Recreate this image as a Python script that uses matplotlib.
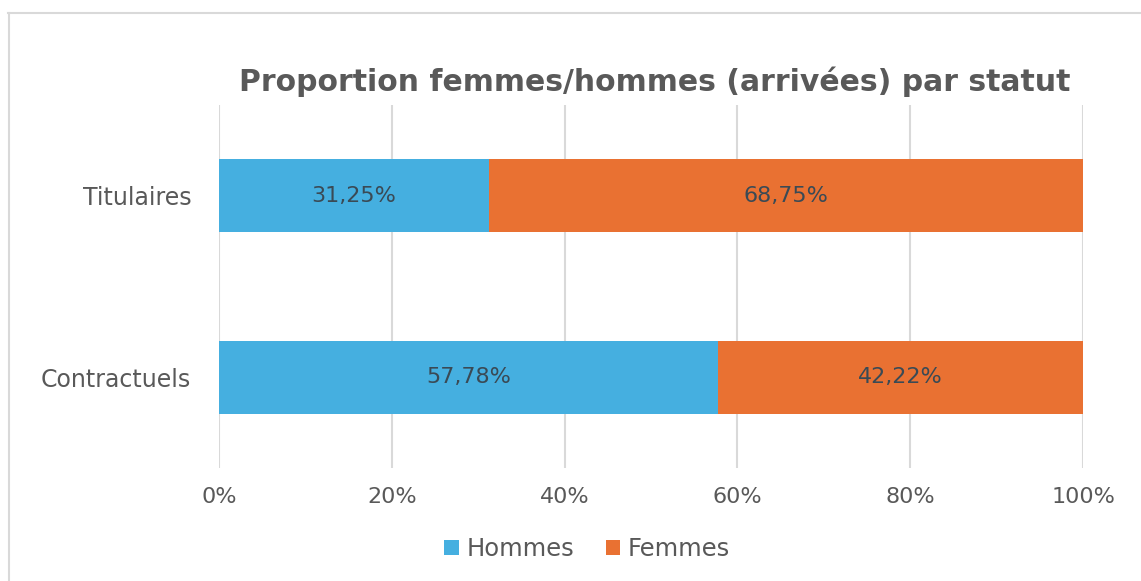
import matplotlib
matplotlib.use("Agg")
import matplotlib.pyplot as plt
from matplotlib.lines import Line2D

categories = ["Contractuels", "Titulaires"]
hommes = [57.78, 31.25]
femmes = [42.22, 68.75]
series_names = ["Hommes", "Femmes"]
xticks = [0, 20, 40, 60, 80, 100]
xtick_labels = ["0%", "20%", "40%", "60%", "80%", "100%"]
title = "Proportion femmes/hommes (arrivées) par statut"

blue = "#45AFE0"
orange = "#E97132"
text_gray = "#595959"
label_color = "#3A4A55"

plt.rcParams["font.family"] = ["DejaVu Sans"]

W, H = 1141, 581
fig = plt.figure(figsize=(W / 100, H / 100), dpi=100)
fig.patch.set_facecolor("white")

# chart area border (top and left visible)
fig.add_artist(Line2D([8 / W, 1.0], [1 - 13 / H, 1 - 13 / H], color="#D9D9D9", lw=1.5))
fig.add_artist(Line2D([9 / W, 9 / W], [0.0, 1 - 13 / H], color="#D9D9D9", lw=1.5))

left, right = 219 / W, 1083 / W
top, bottom = 1 - 105 / H, 1 - 468 / H
ax = fig.add_axes([left, bottom, right - left, top - bottom])

y = list(range(len(categories)))
b1 = ax.barh(y, hommes, height=0.4, color=blue, label=series_names[0], zorder=2)
b2 = ax.barh(y, femmes, left=hommes, height=0.4, color=orange, label=series_names[1], zorder=2)

for bars, vals in ((b1, hommes), (b2, femmes)):
    labels = [f"{v:.2f}%".replace(".", ",") for v in vals]
    ax.bar_label(bars, labels=labels, label_type="center", color=label_color, fontsize=16)

ax.set_xlim(0, 100)
ax.set_ylim(-0.5, 1.5)
ax.set_xticks(xticks)
ax.set_xticklabels(xtick_labels, color=text_gray, fontsize=16)
ax.set_yticks(y)
ax.set_yticklabels(categories, color=text_gray, fontsize=17)
ax.tick_params(axis="both", length=0)
ax.tick_params(axis="x", pad=14)
ax.tick_params(axis="y", pad=20)
ax.grid(axis="x", color="#D9D9D9", lw=1.5, zorder=0)
ax.set_axisbelow(True)
for s in ax.spines.values():
    s.set_visible(False)

fig.text(655 / W, 1 - 82 / H, title, ha="center", va="center",
         fontsize=21.5, fontweight="bold", color=text_gray)

fig.legend(handles=[b1, b2], labels=series_names, loc="center",
           bbox_to_anchor=(587 / W, 1 - 549 / H), ncol=2, frameon=False,
           fontsize=17.5, handlelength=0.6, handleheight=0.6, handletextpad=0.3,
           columnspacing=1.3, labelcolor=text_gray)

fig.savefig("out.png", dpi=100)
